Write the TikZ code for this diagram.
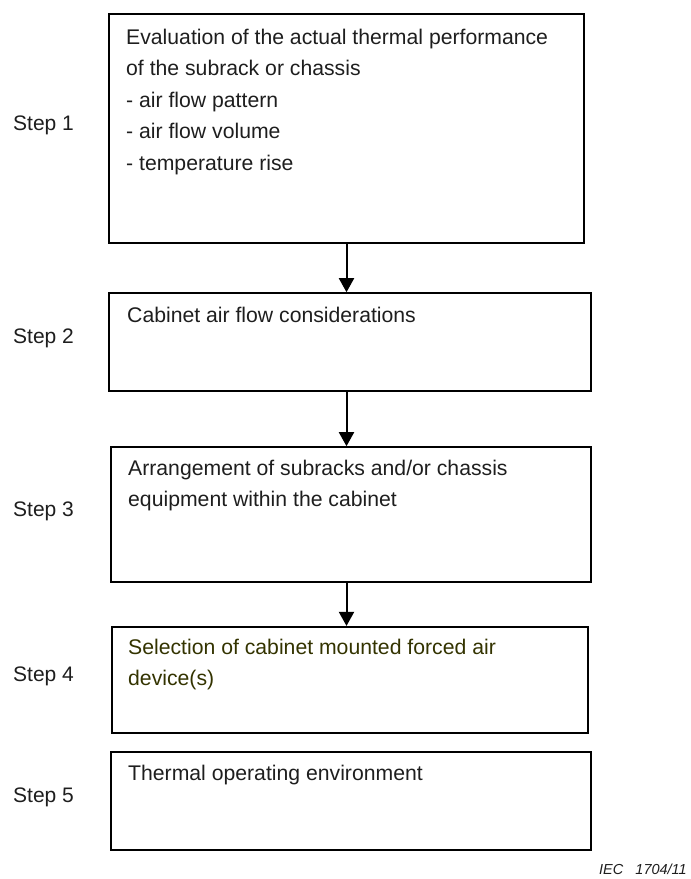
\documentclass[tikz,border=0pt]{standalone}
\usepackage{fontspec}
\setmainfont{Liberation Sans}
\usetikzlibrary{arrows.meta}
\definecolor{txt}{RGB}{30,30,30}
\definecolor{olive4}{RGB}{51,51,0}
\begin{document}
\begin{tikzpicture}[x=1pt,y=-1pt,
  box/.style={draw=black,rectangle,inner sep=0pt,line width=1.6pt},
  thickbox/.style={box,line width=2.2pt},
  boxtext/.style={anchor=base west,inner sep=0pt,align=left,text=txt,
    font=\fontsize{21.2}{31.5}\selectfont},
  steplabel/.style={anchor=west,inner sep=0pt,text=txt,
    font=\fontsize{21}{25}\selectfont},
  arr/.style={line width=2pt,-{Triangle[length=14pt,width=15pt]}}]
\useasboundingbox (0,0) rectangle (691,879);
% boxes
\node[thickbox,minimum width=475pt,minimum height=229pt] (b1) at (346.5,128.5) {};
\node[box,minimum width=482pt,minimum height=98pt] (b2) at (350,342) {};
\node[box,minimum width=480pt,minimum height=135pt] (b3) at (351,514.5) {};
\node[thickbox,minimum width=476pt,minimum height=106pt] (b4) at (350,680) {};
\node[box,minimum width=480pt,minimum height=98pt] (b5) at (351,801) {};
% texts (base anchor = baseline of the last line)
\node[boxtext] (t1) at (126,170) {Evaluation of the actual thermal performance\\
of the subrack or chassis\\- air flow pattern\\- air flow volume\\- temperature rise};
\node[boxtext] (t2) at (127,322) {Cabinet air flow considerations};
\node[boxtext] (t3) at (128,506.5) {Arrangement of subracks and/or chassis\\equipment within the cabinet};
\node[boxtext,text=olive4] (t4) at (128,685.5) {Selection of cabinet mounted forced air\\device(s)};
\node[boxtext] (t5) at (128,780) {Thermal operating environment};
% step labels
\node[steplabel] (s1) at (13,125) {Step 1};
\node[steplabel] (s2) at (13,338) {Step 2};
\node[steplabel] (s3) at (13,511) {Step 3};
\node[steplabel] (s4) at (13,676) {Step 4};
\node[steplabel] (s5) at (13,797) {Step 5};
% arrows
\draw[arr] (b1.south) -- (b1.south |- b2.north);
\draw[arr] (b2.south -| b1.south) -- (b3.north -| b1.south);
\draw[arr] (b3.south -| b1.south) -- (b4.north -| b1.south);
% figure id
\node[anchor=base east,inner sep=0pt,text=txt,font=\fontsize{14.5}{17}\selectfont\itshape] (iec) at (687,874.5) {IEC\ \ \ 1704/11};
\end{tikzpicture}
\end{document}
